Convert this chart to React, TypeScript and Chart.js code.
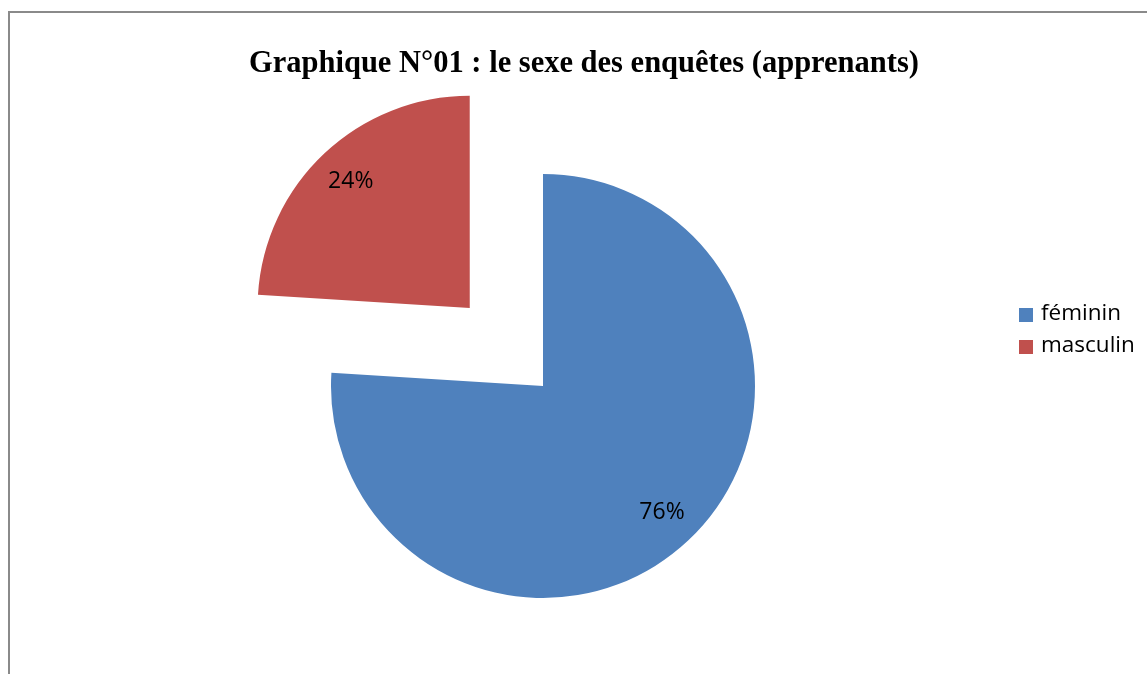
import React, { useEffect, useRef } from "react";
import { Chart, registerables } from "chart.js";

Chart.register(...registerables);

const categories: string[] = ["féminin", "masculin"];
const percentages: number[] = [76, 24];
const colors: string[] = ["#4F81BD", "#C0504D"];
const explode: number[] = [0, 428];
const titleText = "Graphique N°01 : le sexe des enquêtes (apprenants)";

const titlePlugin = {
  id: "customTitle",
  afterDraw(chart: any) {
    const ctx = chart.ctx;
    ctx.save();
    ctx.font = "bold 30.5px 'Liberation Serif', 'Times New Roman', serif";
    ctx.fillStyle = "#000";
    ctx.textAlign = "center";
    ctx.textBaseline = "alphabetic";
    ctx.fillText(titleText, 584, 72);
    ctx.restore();
  },
};

const labelPlugin = {
  id: "sliceLabels",
  afterDatasetsDraw(chart: any) {
    const ctx = chart.ctx;
    const meta = chart.getDatasetMeta(0);
    ctx.save();
    ctx.font = "23px 'Open Sans', sans-serif";
    ctx.fillStyle = "#000";
    ctx.textAlign = "center";
    ctx.textBaseline = "middle";
    meta.data.forEach((arc: any, i: number) => {
      const p = arc.getProps(["x", "y", "startAngle", "endAngle", "outerRadius"], true);
      const mid = (p.startAngle + p.endAngle) / 2;
      const off = (arc.options.offset || 0) / 4;
      const r = p.outerRadius * 0.82 + off;
      const x = p.x + Math.cos(mid) * r;
      const y = p.y + Math.sin(mid) * r;
      ctx.fillText(percentages[i] + "%", x, y);
    });
    ctx.restore();
  },
};

const legendPlugin = {
  id: "customLegend",
  afterDraw(chart: any) {
    const ctx = chart.ctx;
    ctx.save();
    ctx.font = "22.5px 'Open Sans', sans-serif";
    ctx.textAlign = "left";
    ctx.textBaseline = "middle";
    const labels = chart.data.labels as string[];
    const bg = chart.data.datasets[0].backgroundColor as string[];
    labels.forEach((lab, i) => {
      const y = 308 + i * 32;
      ctx.fillStyle = bg[i];
      ctx.fillRect(1019, y, 14, 14);
      ctx.fillStyle = "#000";
      ctx.fillText(lab, 1041, y + 6);
    });
    ctx.restore();
  },
};

export default function App() {
  const ref = useRef<HTMLCanvasElement | null>(null);
  useEffect(() => {
    document.body.style.margin = "0";
    if (!ref.current) return;
    const chart = new Chart(ref.current, {
      type: "pie",
      data: {
        labels: categories,
        datasets: [
          {
            data: percentages,
            backgroundColor: colors,
            borderWidth: 0,
            offset: explode,
          },
        ],
      },
      options: {
        responsive: false,
        animation: false,
        radius: 212,
        layout: { padding: { left: 0, right: 61, top: 98, bottom: 0 } },
        plugins: {
          legend: { display: false },
          title: { display: false },
          tooltip: { enabled: false },
        },
      },
      plugins: [titlePlugin, labelPlugin, legendPlugin],
    } as any);
    return () => chart.destroy();
  }, []);
  return (
    <div style={{ position: "relative", width: 1147, height: 674, background: "#fff", overflow: "hidden" }}>
      <div
        style={{
          position: "absolute",
          left: 8,
          top: 11,
          width: 1200,
          height: 700,
          borderTop: "2px solid #8a8a8a",
          borderLeft: "2px solid #8a8a8a",
        }}
      />
      <canvas ref={ref} width={1147} height={674} style={{ position: "absolute", left: 0, top: 0, display: "block" }} />
    </div>
  );
}
